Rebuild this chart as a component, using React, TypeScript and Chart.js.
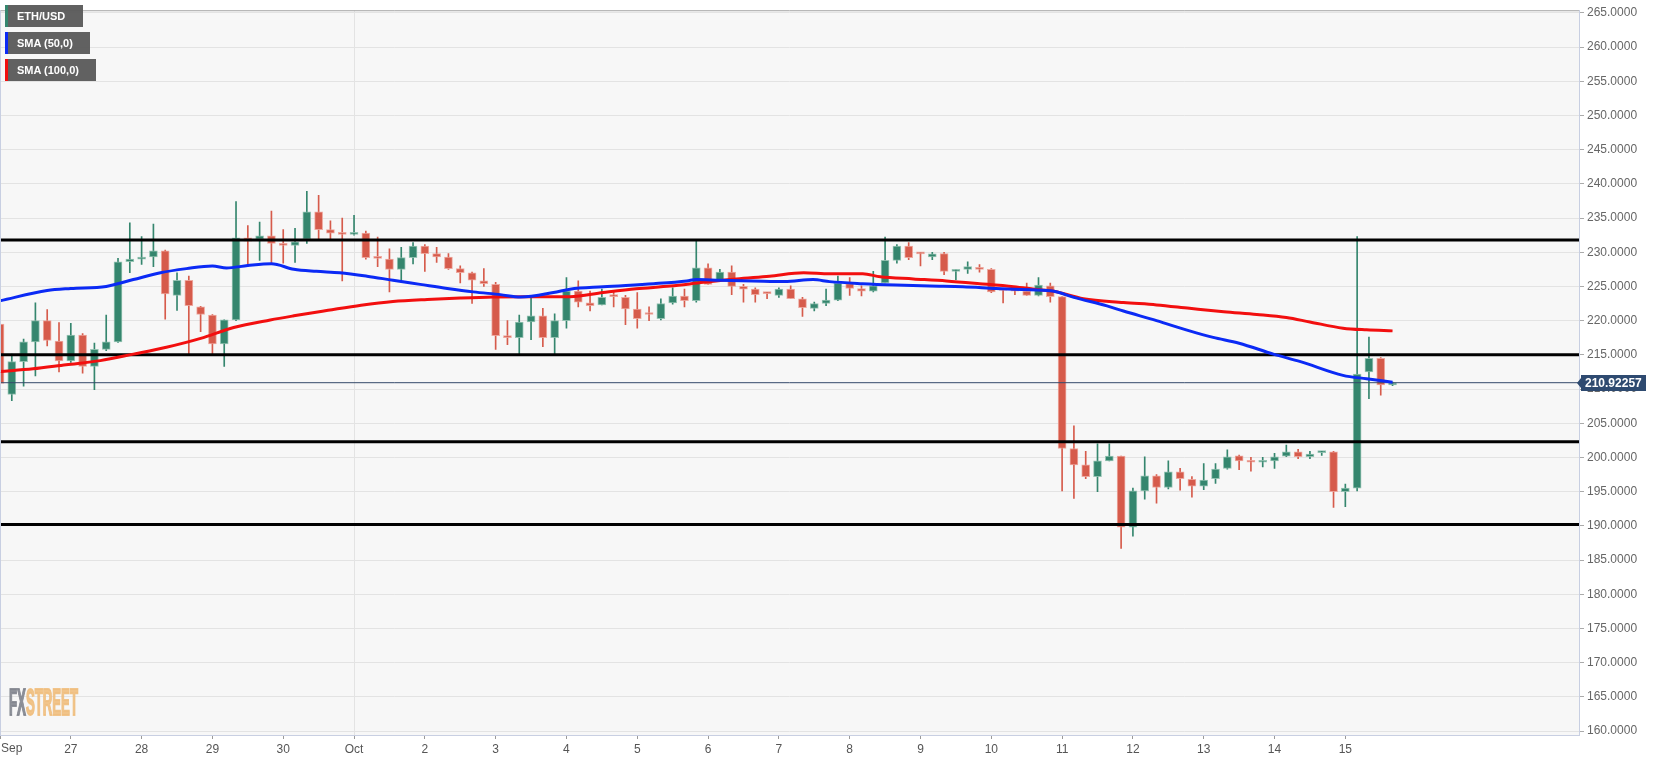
import React, { useEffect, useRef } from 'react';
import { Chart, registerables } from 'chart.js';

Chart.register(...registerables);

// ---- DATA ----
const dayLabels = ['Sep', '27', '28', '29', '30', 'Oct', '2', '3', '4', '5', '6', '7', '8', '9', '10', '11', '12', '13', '14', '15'];
const candlesPerDay = 6; // 4-hour candles

const candleOpen = [
  219.5, 209.2, 214.0, 216.9, 220.0, 217.0, 214.1, 217.9, 213.3, 215.8,
  216.9, 228.6, 229.0, 229.3, 230.2, 223.7, 225.9, 222.0, 220.8, 216.6,
  220.1, 232.1, 231.9, 232.4, 231.3, 231.0, 231.9, 235.9, 233.3, 232.7,
  232.6, 232.8, 229.3, 229.0, 227.5, 229.2, 230.9, 229.8, 229.3, 227.6,
  227.0, 225.8, 225.3, 217.8, 217.5, 219.8, 220.7, 217.5, 220.0, 224.3,
  222.6, 222.3, 223.6, 223.4, 221.7, 221.0, 220.3, 222.6, 223.6, 222.9,
  227.7, 226.0, 227.1, 225.0, 224.6, 224.05, 223.7, 224.6, 223.2, 221.8,
  222.5, 223.0, 225.4, 224.7, 224.3, 225.5, 228.8, 230.9, 229.9, 229.3,
  229.8, 227.2, 227.5, 227.8, 227.5, 224.5, 224.4, 224.3, 223.7, 225.1,
  223.5, 201.3, 198.9, 197.2, 199.5, 200.2, 189.8, 195.1, 197.3, 195.6,
  197.9, 196.8, 195.8, 196.9, 198.4, 200.25, 199.4, 199.3, 199.5, 200.2,
  200.8, 200.1, 200.7, 200.8, 195.0, 195.5, 212.5, 214.5, 210.6,
];
const candleHigh = [
  220.5, 215.1, 217.3, 222.6, 221.6, 219.7, 219.6, 218.1, 216.7, 220.8,
  229.1, 234.3, 232.3, 234.1, 230.3, 227.0, 226.5, 222.1, 220.9, 220.1,
  237.4, 233.9, 234.4, 236.0, 233.3, 233.5, 238.9, 238.3, 234.6, 235.0,
  235.4, 233.1, 232.2, 230.5, 230.7, 231.4, 231.1, 230.7, 229.8, 228.0,
  227.1, 227.6, 225.6, 220.0, 220.8, 223.4, 221.8, 221.0, 226.3, 225.8,
  224.3, 224.6, 224.2, 223.7, 224.1, 222.0, 223.2, 224.8, 224.6, 231.6,
  228.3, 227.5, 228.0, 225.3, 224.8, 224.1, 224.8, 225.1, 223.4, 222.7,
  224.6, 226.5, 226.3, 225.1, 227.2, 232.2, 231.1, 231.4, 229.9, 230.0,
  230.0, 227.5, 228.6, 228.2, 227.6, 224.6, 224.6, 225.5, 226.3, 225.5,
  223.5, 204.6, 200.9, 202.0, 202.0, 200.2, 195.5, 200.1, 197.5, 199.5,
  198.4, 197.2, 199.1, 199.1, 201.1, 200.35, 200.0, 200.0, 200.6, 201.8,
  201.2, 200.9, 200.9, 200.9, 196.1, 232.3, 217.6, 214.6, 211.0,
];
const candleLow = [
  207.5, 208.3, 210.4, 211.9, 216.3, 212.5, 213.9, 212.3, 209.9, 215.6,
  216.8, 227.0, 228.2, 227.9, 220.2, 221.5, 214.9, 218.4, 215.0, 213.3,
  220.0, 228.0, 228.8, 228.4, 228.4, 228.5, 231.3, 231.9, 231.9, 225.8,
  232.5, 229.0, 227.9, 224.2, 225.8, 228.3, 227.2, 228.5, 227.5, 225.5,
  222.5, 225.0, 215.8, 216.5, 215.0, 217.2, 216.2, 215.0, 218.9, 222.0,
  221.4, 222.3, 222.0, 219.4, 218.9, 220.0, 220.1, 222.4, 222.0, 222.7,
  225.3, 226.0, 223.8, 222.7, 222.7, 223.2, 223.4, 223.2, 220.6, 221.4,
  222.2, 222.9, 223.7, 223.6, 224.2, 225.5, 228.4, 228.9, 228.0, 228.9,
  226.7, 226.0, 226.9, 227.1, 224.1, 222.6, 223.8, 223.7, 223.6, 222.7,
  195.1, 194.0, 196.9, 195.0, 199.5, 186.7, 188.5, 193.9, 193.3, 195.4,
  195.2, 194.2, 195.3, 196.2, 198.3, 198.2, 198.0, 198.6, 198.4, 200.1,
  199.8, 199.8, 200.3, 192.7, 192.8, 195.1, 208.6, 209.1, 210.5,
];
const candleClose = [
  210.8, 214.0, 216.9, 220.0, 217.1, 214.1, 217.9, 213.3, 215.8, 216.9,
  228.6, 229.0, 229.3, 230.2, 223.9, 225.9, 222.2, 220.9, 216.6, 220.1,
  232.1, 231.6, 232.4, 231.3, 231.0, 231.5, 235.9, 233.3, 232.8, 232.6,
  232.8, 229.2, 229.1, 227.5, 229.2, 230.9, 229.8, 229.3, 227.6, 227.0,
  225.9, 225.4, 217.8, 217.5, 219.8, 220.7, 217.5, 220.0, 224.3, 222.7,
  222.2, 223.4, 223.5, 221.7, 220.3, 220.9, 222.5, 223.6, 222.9, 227.7,
  225.3, 227.1, 225.0, 224.6, 223.8, 223.95, 224.6, 223.2, 221.9, 222.5,
  223.0, 225.5, 224.7, 224.3, 225.1, 228.8, 230.9, 229.2, 229.75, 229.75,
  227.2, 227.5, 227.9, 227.5, 224.2, 224.4, 224.3, 223.7, 225.2, 223.5,
  201.3, 198.9, 197.2, 199.5, 200.2, 189.8, 195.1, 197.3, 195.6, 197.9,
  196.9, 195.8, 196.7, 198.3, 200.1, 199.5, 199.3, 199.5, 200.1, 200.8,
  200.1, 200.5, 200.9, 195.0, 195.5, 212.2, 214.5, 210.6, 210.92,
];

// SMA readings (x = candle index)
const sma50X = [0, 4, 6, 9, 11.3, 13.6, 15.8, 18, 19.2, 21, 23, 24.9, 26.8, 28.8, 31.1, 33.3, 35.6, 37.9, 40.1, 42.4, 44.1, 46.9, 48.3, 51.1, 55.4, 58.2, 59, 61, 63.8, 66.5, 68.9, 70.3, 73.1, 75.9, 78.8, 81.6, 84.4, 87.3, 89.3, 91, 93.8, 95.2, 98, 100.8, 102.8, 105, 107.9, 110.2, 113.8, 115.8, 118];
const sma50Y = [222.9, 224.4, 224.7, 225.0, 226.0, 227.0, 227.6, 228.0, 227.7, 228.05, 228.3, 227.5, 227.2, 227.0, 226.5, 225.9, 225.3, 224.7, 224.2, 223.8, 223.45, 224.1, 224.6, 224.95, 225.4, 225.8, 226.0, 225.9, 225.8, 225.7, 226.0, 225.7, 225.4, 225.2, 225.05, 224.95, 224.7, 224.5, 224.3, 223.4, 222.15, 221.4, 220.0, 218.5, 217.55, 216.7, 215.1, 214.0, 212.0, 211.5, 211.0];
const sma100X = [0, 2.8, 5.6, 8.5, 11.3, 14.1, 17, 19.8, 22.9, 24.9, 27.8, 30.6, 33.3, 36.2, 39, 41.8, 44.9, 48.3, 51.1, 53.9, 56.8, 59.6, 62.4, 65.2, 68.1, 70.3, 73.1, 74.6, 77.4, 80.2, 83, 85.9, 88.1, 89.3, 91.8, 95.2, 98, 100.8, 103.7, 106.5, 109, 111, 113.8, 115.8, 118];
const sma100Y = [212.55, 212.95, 213.55, 214.15, 215.1, 216.1, 217.4, 219.0, 220.1, 220.7, 221.5, 222.25, 222.8, 223.1, 223.3, 223.45, 223.5, 223.5, 224.1, 224.65, 225.05, 225.6, 226.1, 226.5, 227.0, 226.85, 226.85, 226.4, 226.1, 225.8, 225.4, 224.95, 224.5, 224.3, 223.2, 222.65, 222.3, 221.8, 221.3, 220.9, 220.45, 219.8, 218.9, 218.65, 218.5];

const levelValues = [231.8, 215.0, 202.3, 190.2];
const currentPrice = 210.92257;
const yTickValues = [160, 165, 170, 175, 180, 185, 190, 195, 200, 205, 210, 215, 220, 225, 230, 235, 240, 245, 250, 255, 260, 265];

// ---- STYLE ----
const X_MIN = 0;
const X_MAX = 133.8;
const Y_MIN = 159.42;
const Y_MAX = 265.38;
const GREEN = '#35866e';
const RED = '#d65b4b';
const FONT = '"Liberation Sans", Arial, sans-serif';

const decor = {
  id: 'decor',
  beforeDraw(chart: any) {
    const { ctx, chartArea: a } = chart;
    ctx.save();
    ctx.fillStyle = '#ffffff';
    ctx.fillRect(0, 0, chart.width, chart.height);
    ctx.fillStyle = '#f7f7f7';
    ctx.fillRect(a.left, a.top, a.right - a.left, a.bottom - a.top);
    ctx.restore();
  },
  beforeDatasetsDraw(chart: any) {
    const { ctx } = chart;
    ctx.save();
    ctx.font = `bold 37px ${FONT}`;
    const w1 = ctx.measureText('FX').width;
    const w2 = ctx.measureText('STREET').width;
    const s = 69 / (w1 + w2);
    ctx.translate(9, 715);
    ctx.scale(s, 1);
    ctx.textBaseline = 'alphabetic';
    ctx.lineWidth = 2;
    ctx.fillStyle = 'rgba(130,133,142,0.9)';
    ctx.strokeStyle = 'rgba(130,133,142,0.9)';
    ctx.fillText('FX', 0, 0);
    ctx.strokeText('FX', 0, 0);
    ctx.fillStyle = 'rgba(240,190,125,0.9)';
    ctx.strokeStyle = 'rgba(240,190,125,0.9)';
    ctx.fillText('STREET', w1, 0);
    ctx.strokeText('STREET', w1, 0);
    ctx.restore();
  },
  afterDraw(chart: any) {
    const { ctx, chartArea: a, scales } = chart;
    ctx.save();
    // top border
    ctx.strokeStyle = '#a9a9a9';
    ctx.lineWidth = 1;
    ctx.beginPath();
    ctx.moveTo(a.left, a.top + 0.5);
    ctx.lineTo(a.right, a.top + 0.5);
    ctx.stroke();
    // left border
    ctx.strokeStyle = '#c8cfe2';
    ctx.beginPath();
    ctx.moveTo(a.left + 0.5, a.top);
    ctx.lineTo(a.left + 0.5, a.bottom);
    ctx.stroke();
    // first x label
    ctx.fillStyle = '#555';
    ctx.font = `12px ${FONT}`;
    ctx.textBaseline = 'middle';
    ctx.textAlign = 'left';
    ctx.fillText(dayLabels[0], 1, 749);
    // price label
    const py = Math.round(scales.y.getPixelForValue(currentPrice));
    ctx.fillStyle = '#2e4a70';
    ctx.beginPath();
    ctx.moveTo(a.right - 2, py);
    ctx.lineTo(a.right + 2, py - 5);
    ctx.lineTo(a.right + 2, py - 8);
    ctx.lineTo(a.right + 67, py - 8);
    ctx.lineTo(a.right + 67, py + 8);
    ctx.lineTo(a.right + 2, py + 8);
    ctx.lineTo(a.right + 2, py + 5);
    ctx.closePath();
    ctx.fill();
    ctx.fillStyle = '#ffffff';
    ctx.font = `bold 12px ${FONT}`;
    ctx.textAlign = 'left';
    ctx.fillText(currentPrice.toFixed(5), a.right + 6, py + 1);
    ctx.restore();
  },
};

export default function App() {
  const ref = useRef<HTMLCanvasElement>(null);

  useEffect(() => {
    document.body.style.margin = '0';
    const idx = candleOpen.map((_, i) => i);
    const isUp = (i: number) => candleClose[i] >= candleOpen[i];

    const datasets: any[] = [
      {
        type: 'bar',
        label: 'wick',
        data: idx.map((i) => ({ x: i, y: [candleLow[i], candleHigh[i]] })),
        backgroundColor: idx.map((i) => (isUp(i) ? GREEN : RED)),
        barThickness: 1,
        grouped: false,
        minBarLength: 1,
        order: 20,
      },
      {
        type: 'bar',
        label: 'body',
        data: idx.map((i) => ({ x: i, y: [candleOpen[i], candleClose[i]] })),
        backgroundColor: idx.map((i) => (isUp(i) ? GREEN : RED)),
        borderColor: idx.map((i) => (isUp(i) ? 'rgba(140,190,172,0.9)' : 'rgba(236,160,150,0.9)')),
        borderWidth: 1,
        borderSkipped: false,
        barThickness: 8,
        grouped: false,
        minBarLength: 2,
        order: 19,
      },
      {
        type: 'line',
        label: 'price',
        data: [{ x: X_MIN, y: currentPrice }, { x: X_MAX, y: currentPrice }],
        borderColor: '#34496a',
        borderWidth: 1,
        pointRadius: 0,
        order: 6,
      },
      ...levelValues.map((v) => ({
        type: 'line',
        label: 'level',
        data: [{ x: X_MIN, y: v }, { x: X_MAX, y: v }],
        borderColor: '#000000',
        borderWidth: 3,
        pointRadius: 0,
        order: 4,
      })),
      {
        type: 'line',
        label: 'SMA (100,0)',
        data: sma100X.map((x, i) => ({ x, y: sma100Y[i] })),
        borderColor: '#f20f0f',
        borderWidth: 3,
        pointRadius: 0,
        cubicInterpolationMode: 'monotone',
        order: 3,
      },
      {
        type: 'line',
        label: 'SMA (50,0)',
        data: sma50X.map((x, i) => ({ x, y: sma50Y[i] })),
        borderColor: '#0b2af5',
        borderWidth: 3,
        pointRadius: 0,
        cubicInterpolationMode: 'monotone',
        order: 2,
      },
    ];

    const chart = new Chart(ref.current!, {
      type: 'bar',
      data: { datasets },
      options: {
        animation: false,
        responsive: false,
        maintainAspectRatio: false,
        layout: { padding: { top: 6, left: 0, right: 0, bottom: 0 }, autoPadding: false } as any,
        plugins: { legend: { display: false }, tooltip: { enabled: false } },
        scales: {
          x: {
            type: 'linear',
            min: X_MIN,
            max: X_MAX,
            offset: false,
            afterFit: (s: any) => { s.height = 25; },
            afterBuildTicks: (s: any) => {
              s.ticks = dayLabels.map((_, k) => ({ value: k * candlesPerDay }));
            },
            ticks: {
              autoSkip: false,
              maxRotation: 0,
              padding: 0,
              color: '#555',
              font: { family: FONT, size: 12, lineHeight: 1.7 },
              callback: (_v: any, i: number) => (i === 0 ? '' : dayLabels[i]),
            },
            grid: {
              offset: false,
              color: (c: any) => (c.tick && c.tick.value === 5 * candlesPerDay ? '#e3e3e3' : 'rgba(0,0,0,0)'),
              tickColor: '#9a9a9a',
              tickLength: 4,
              drawOnChartArea: true,
            },
            border: { color: '#c8cfe2', width: 1 },
          },
          y: {
            type: 'linear',
            position: 'right',
            min: Y_MIN,
            max: Y_MAX,
            afterFit: (s: any) => { s.width = 92; },
            afterBuildTicks: (s: any) => {
              s.ticks = yTickValues.map((v) => ({ value: v }));
            },
            ticks: {
              padding: 3,
              color: '#666',
              font: { family: FONT, size: 12 },
              callback: (v: any) => Number(v).toFixed(4),
            },
            grid: {
              color: '#e3e3e3',
              tickColor: '#aaa',
              tickLength: 5,
            },
            border: { color: '#c8cfe2', width: 1 },
          },
        },
      },
      plugins: [decor],
    } as any);
    return () => chart.destroy();
  }, []);

  const legendItems = [
    { text: 'ETH/USD', color: GREEN, top: 5, width: 78 },
    { text: 'SMA (50,0)', color: '#0b2af5', top: 32, width: 85 },
    { text: 'SMA (100,0)', color: '#f20f0f', top: 59, width: 91 },
  ];

  return (
    <div style={{ position: 'fixed', left: 0, top: 0, width: 1671, height: 760, background: '#fff' }}>
      <canvas ref={ref} width={1671} height={760} style={{ display: 'block', width: 1671, height: 760 }} />
      {legendItems.map((it) => (
        <div
          key={it.text}
          style={{
            position: 'absolute',
            left: 5,
            top: it.top,
            width: it.width,
            height: 22,
            background: 'rgba(88,88,88,0.95)',
            borderLeft: `3px solid ${it.color}`,
            color: '#fff',
            font: `bold 11px ${FONT}`,
            lineHeight: '22px',
            paddingLeft: 9,
            boxSizing: 'border-box',
            whiteSpace: 'nowrap',
          }}
        >
          {it.text}
        </div>
      ))}
    </div>
  );
}
